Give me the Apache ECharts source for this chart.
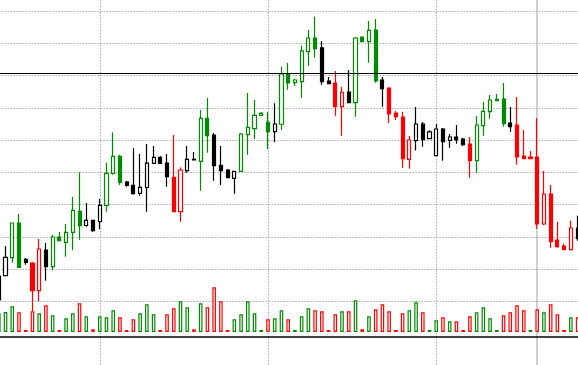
<!DOCTYPE html>
<html><head><meta charset="utf-8">
<script src="https://cdn.jsdelivr.net/npm/echarts@6/dist/echarts.min.js"></script>
<style>html,body{margin:0;padding:0;background:#fff}#c{width:578px;height:365px}</style>
</head><body><div id="c"></div>
<script>
// Price data (open, close, low, high) per session
const openP = [0.40,7.95,13.53,24.30,13.04,11.89,3.29,15.92,10.74,19.96,
  18.31,21.42,27.93,23.53,25.14,24.77,29.80,39.73,45.00,37.03,
  36.00,33.52,35.32,42.83,44.69,42.92,38.49,27.81,40.53,44.07,
  43.45,56.80,51.61,42.21,40.75,38.17,40.35,51.71,53.57,57.73,
  55.56,52.64,54.94,70.55,67.85,68.16,77.47,81.72,78.62,68.37,
  67.75,60.40,64.96,61.64,82.03,80.57,84.20,68.68,66.20,58.44,
  57.20,44.07,49.85,55.03,50.47,45.19,53.48,49.97,50.99,50.37,
  48.82,43.64,54.50,58.85,62.69,62.79,55.34,54.72,45.10,44.79,
  44.79,23.99,33.30,19.03,17.16,16.02,22.75];
const closeP = [7.85,13.66,24.30,10.55,12.10,3.29,16.23,10.74,19.96,18.81,
  21.42,28.24,23.46,25.14,21.91,29.80,39.73,45.00,36.87,36.00,
  33.40,35.38,42.86,44.69,42.77,38.67,27.81,40.75,44.07,43.85,
  56.80,51.40,42.09,40.53,38.36,40.35,51.92,54.00,57.73,58.35,
  52.64,55.03,70.55,67.75,68.68,77.69,81.72,78.40,68.16,67.54,
  60.40,64.87,61.64,81.72,80.57,84.11,68.37,65.98,58.13,57.29,
  44.26,50.06,55.03,50.16,52.55,53.48,49.53,50.99,50.16,48.60,
  43.64,54.72,58.97,62.48,62.26,55.12,54.19,44.79,44.26,44.26,
  23.99,33.30,18.50,16.95,16.02,22.75,19.55];
const lowP = [0.19,7.85,11.98,10.34,11.36,-3.01,-0.12,6.39,9.71,18.72,
  13.84,15.83,19.12,23.15,21.60,22.44,27.81,39.29,36.10,35.57,
  33.15,32.77,27.81,42.77,42.71,35.57,27.72,24.71,39.91,43.76,
  34.33,46.12,37.43,36.10,38.27,33.40,40.29,45.50,50.37,57.67,
  47.27,49.35,53.17,65.67,66.82,63.19,73.12,75.61,67.23,67.44,
  57.60,51.40,61.55,57.29,80.48,74.05,67.85,60.40,55.34,56.27,
  41.47,41.16,46.80,47.98,50.37,45.10,43.64,47.67,48.91,48.20,
  38.36,39.91,51.40,56.67,62.26,54.19,52.55,42.40,44.26,44.26,
  22.53,23.68,16.64,16.64,16.02,16.02,18.81];
const highP = [8.16,17.16,24.30,27.10,13.44,12.20,19.34,18.09,20.58,21.51,
  23.99,32.37,40.04,30.51,25.23,31.75,43.02,52.45,45.50,37.34,
  47.58,45.72,48.82,48.20,45.10,45.72,51.61,41.59,48.20,46.34,
  59.37,63.10,52.22,48.20,41.06,40.44,52.24,64.65,62.48,58.75,
  58.75,61.45,72.81,73.96,69.09,79.33,84.20,88.33,80.79,69.62,
  71.48,66.51,71.79,82.03,82.19,87.00,87.62,69.62,66.42,59.06,
  58.85,51.30,60.31,55.65,53.07,55.03,53.79,51.92,54.72,50.78,
  50.99,57.51,61.86,64.03,64.34,67.75,60.31,63.41,53.17,46.65,
  56.80,40.44,36.10,24.71,17.88,25.02,26.57];
// Trend state per session: g = rising, k = neutral, r = falling
const trend = ("kkggkrrkgg" + "gggkkkgggk" + "kkkkkkrrkk" + "ggkkkkgggg" + "gkggggggkk" +
  "rrkggggkrr" + "rrkkkkkkkk" + "rgggggkrrr" + "rrrrrrk").split("");
// Volume per session and its direction
const volume = [18.7,20,25.7,19.7,2,20.7,18.7,26.7,16.7,2,
  13.7,18.7,28.7,15.7,2.7,15.7,14.7,21.7,14.7,2,
  12.7,18.7,27.7,17.7,2,17.7,23.7,30.7,24.7,2.7,
  28.7,24.7,44.7,30.7,2,12.7,17.7,30.7,18.7,2,
  12.7,13.7,21.7,12.7,2,15.7,23.7,21.7,20.7,2,
  17.7,20.7,20.7,31.7,2.7,15.7,22.7,27.7,20.7,2,
  18.7,21.7,29.7,19.7,2,11.7,14.7,10.7,10.7,2,
  15.7,19.7,24.7,13.7,2,16.7,19.7,26.7,21.7,2,
  22.7,19.7,27.7,17.7,2,14.7,14.7];
const volDir = ("gggrrrgrgr" + "ggrgrgggrr" + "rgggrrrggr" + "grrrrggggg" + "rggrgggrrr" +
  "rgrgrgrrrr" + "rggrggrgrr" + "rggggrrrrg" + "rgrrrgr").split("");
const resistance = 70.7;
const cursorIndex = 80;
const categories = openP.map((_, i) => "D" + (i + 1));

const COL = { g: '#008c00', k: '#000000', r: '#ff0000' };
const GRID_DOT = { color: '#aaaaaa', type: [1.5, 1.5], width: 1 };
const EMPTY = ['-', '-', '-', '-'];

function candleSeries(key, withLine) {
  const c = COL[key];
  const s = {
    type: 'candlestick', xAxisIndex: 0, yAxisIndex: 0, barWidth: 3.6, clip: false,
    data: openP.map((o, i) => trend[i] === key ? [o, closeP[i], lowP[i], highP[i]] : EMPTY),
    itemStyle: { color: '#ffffff', color0: c, borderColor: c, borderColor0: c, borderWidth: 1.2 }
  };
  if (withLine) {
    s.markLine = { silent: true, symbol: ['none', 'none'], label: { show: false }, z: 10,
      lineStyle: { color: '#000', width: 1.2, type: 'solid' }, data: [{ yAxis: resistance }] };
  }
  return s;
}
const volData = volume.map((v, i) => ({ value: v,
  itemStyle: { color: '#ffffff', borderColor: COL[volDir[i]], borderWidth: 1.2 } }));

const hiddenAxis = { axisLine: { show: false }, axisTick: { show: false }, axisLabel: { show: false } };

const chart = echarts.init(document.getElementById('c'), null, { renderer: 'canvas' });
chart.setOption({
  animation: false,
  backgroundColor: '#ffffff',
  grid: [
    { left: -4.565, right: -2.95, top: 11.3, bottom: 63.7, outerBoundsMode: 'none' },
    { left: -4.565, right: -2.95, top: 282, bottom: 33, outerBoundsMode: 'none' },
    { left: -1.2, right: 0.42, top: 0, bottom: 0, outerBoundsMode: 'none' }
  ],
  xAxis: [
    Object.assign({ type: 'category', gridIndex: 0, data: categories, boundaryGap: true, splitLine: { show: false } }, hiddenAxis),
    { type: 'category', gridIndex: 1, data: categories, boundaryGap: true, offset: 5,
      axisLine: { show: true, onZero: false, lineStyle: { color: '#000', width: 1.5 } },
      axisTick: { show: false }, axisLabel: { show: false }, splitLine: { show: false } },
    Object.assign({ type: 'category', gridIndex: 2, data: categories, boundaryGap: false, position: 'bottom',
      splitLine: { show: true, interval: (i) => i >= 15 && (i - 15) % 25 === 0, lineStyle: GRID_DOT } }, hiddenAxis),
    Object.assign({ type: 'category', gridIndex: 2, data: categories, boundaryGap: false, position: 'top',
      splitLine: { show: true, interval: (i) => i === cursorIndex, lineStyle: { color: '#c0c0c0', width: 1.5 } } }, hiddenAxis)
  ],
  yAxis: [
    Object.assign({ type: 'value', gridIndex: 0, min: 0, max: 90, interval: 10,
      splitLine: { show: true, lineStyle: GRID_DOT } }, hiddenAxis),
    Object.assign({ type: 'value', gridIndex: 1, min: 0, max: 50, splitLine: { show: false } }, hiddenAxis),
    Object.assign({ type: 'value', gridIndex: 2, min: 0, max: 1, splitLine: { show: false } }, hiddenAxis)
  ],
  series: [
    candleSeries('g', false),
    candleSeries('k', false),
    candleSeries('r', true),
    { type: 'bar', xAxisIndex: 1, yAxisIndex: 1, data: volData, barWidth: 3.6 }
  ]
});
</script>
</body></html>
